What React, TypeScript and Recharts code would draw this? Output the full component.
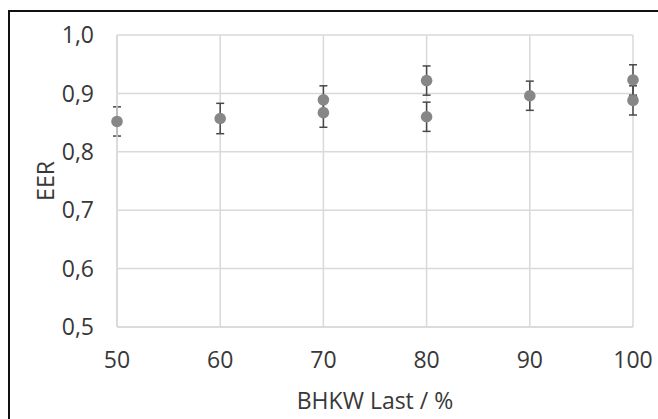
import React from 'react';
import { ScatterChart, Scatter, XAxis, YAxis, CartesianGrid, ErrorBar } from 'recharts';

const loads = [50, 60, 70, 70, 80, 80, 90, 100, 100];
const eer = [0.852, 0.857, 0.889, 0.867, 0.922, 0.860, 0.896, 0.923, 0.888];
const errs = [0.025, 0.026, 0.024, 0.025, 0.025, 0.025, 0.025, 0.026, 0.025];
const xTicks = [50, 60, 70, 80, 90, 100];
const yTicks = [0.5, 0.6, 0.7, 0.8, 0.9, 1.0];

const data = loads.map((x, i) => ({ x, y: eer[i], err: errs[i] }));

const FONT = '"Open Sans", sans-serif';
const TEXT = '#383838';
const GRID = '#d9d9d9';

const Dot = (props: any) => <circle cx={props.cx} cy={props.cy} r={5.8} fill="#878787" />;

export default function App() {
  return (
    <div style={{ position: 'absolute', left: 0, top: 0, width: 658, height: 419, overflow: 'hidden', background: '#fff' }}>
      <div style={{ position: 'absolute', left: 8, top: 10, width: 700, height: 500, borderTop: '2px solid #111', borderLeft: '2px solid #111' }} />
      <div style={{ position: 'absolute', left: 0, top: 0 }}>
        <ScatterChart width={658} height={419} margin={{ top: 35, right: 25, left: 0, bottom: 0 }}>
          <CartesianGrid stroke={GRID} strokeWidth={1.5} />
          <XAxis
            type="number"
            dataKey="x"
            domain={[50, 100]}
            ticks={xTicks}
            height={92}
            tickLine={false}
            tickSize={0}
            tickMargin={25}
            axisLine={{ stroke: GRID, strokeWidth: 1.5 }}
            tick={{ fontFamily: FONT, fontSize: 23, fill: TEXT }}
            label={{ value: 'BHKW Last / %', position: 'insideBottom', offset: 10, style: { fontFamily: FONT, fontSize: 23, fill: TEXT } }}
          />
          <YAxis
            type="number"
            dataKey="y"
            domain={[0.5, 1.0]}
            ticks={yTicks}
            width={117}
            tickLine={false}
            tickSize={0}
            tickMargin={23}
            axisLine={{ stroke: GRID, strokeWidth: 1.5 }}
            tickFormatter={(v: number) => v.toFixed(1).replace('.', ',')}
            tick={{ fontFamily: FONT, fontSize: 23, fill: TEXT }}
            label={{ value: 'EER', angle: -90, position: 'insideLeft', offset: 46, style: { fontFamily: FONT, fontSize: 23, fill: TEXT, textAnchor: 'middle' } }}
          />
          <Scatter data={data} fill="#878787" shape={Dot} isAnimationActive={false}>
            <ErrorBar dataKey="err" direction="y" width={4} stroke="#484848" strokeWidth={1.5} />
          </Scatter>
        </ScatterChart>
      </div>
    </div>
  );
}
